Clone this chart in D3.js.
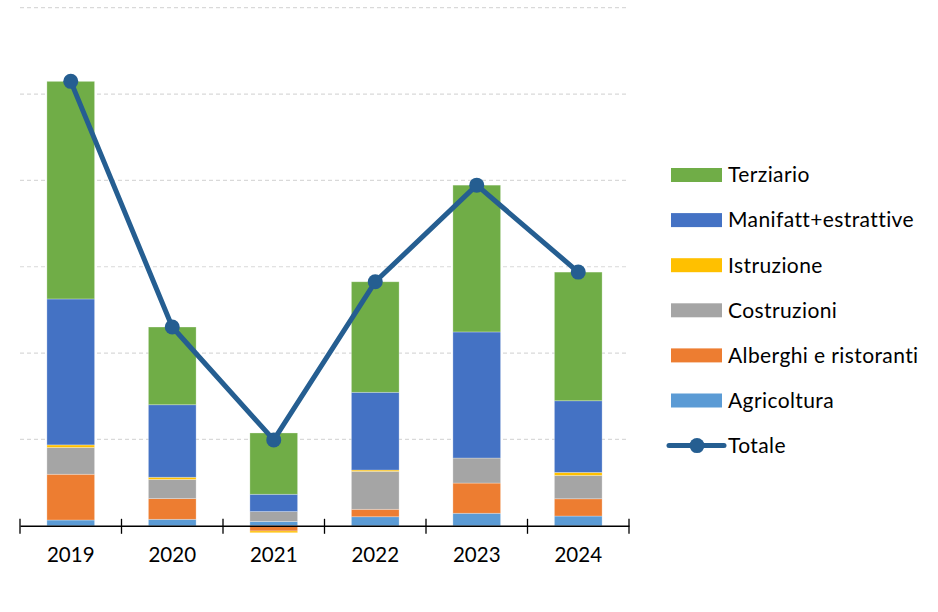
<!DOCTYPE html>
<html>
<head>
<meta charset="utf-8">
<script src="https://cdn.jsdelivr.net/npm/d3@7"></script>
<style>
  body { margin: 0; background: #fff; }
  text { font-family: Lato, "Open Sans", sans-serif; fill: #000; font-variant-ligatures: none; }
</style>
</head>
<body>
<div id="chart"></div>
<script>
// data (one gridline = 1000)
const years = ["2019", "2020", "2021", "2022", "2023", "2024"]
const agricoltura = [67, 75, 50, 105, 145, 113]
const alberghi = [530, 240, -60, 86, 350, 200]
const costruzioni = [310, 222, 115, 440, 290, 270]
const istruzione = [30, 25, -20, 15, 0, 35]
const manifatt = [1690, 840, 200, 900, 1460, 830]
const terziario = [2520, 900, 710, 1280, 1700, 1490]
const gridTicks = [1000, 2000, 3000, 4000, 5000, 6000]

const seriesNames = ["Agricoltura", "Alberghi e ristoranti", "Costruzioni", "Istruzione", "Manifatt+estrattive", "Terziario"]
const seriesValues = [agricoltura, alberghi, costruzioni, istruzione, manifatt, terziario]
const colors = ["#5b9bd5", "#ed7d31", "#a5a5a5", "#ffc000", "#4472c4", "#70ad47"]
const lineColor = "#255e91"

const width = 938
const height = 612

const rows = years.map((y, i) => {
  const r = { year: y }
  seriesNames.forEach((s, j) => { r[s] = seriesValues[j][i] })
  r.total = d3.sum(seriesValues, v => v[i])
  return r
})

const svg = d3.select("#chart").append("svg")
  .attr("width", width)
  .attr("height", height)

const x = d3.scaleBand().domain(years).range([20, 629])
const y = d3.scaleLinear().domain([0, 6000]).range([525.8, 7.7])
const barW = x.step() * 0.47

// gridlines
svg.append("g")
  .selectAll("line")
  .data(gridTicks)
  .join("line")
  .attr("x1", 20)
  .attr("x2", 629)
  .attr("y1", d => y(d))
  .attr("y2", d => y(d))
  .attr("stroke", "#d9d9d9")
  .attr("stroke-width", 1.2)
  .attr("stroke-dasharray", "4,3")

// stacked bars
const stack = d3.stack().keys(seriesNames).offset(d3.stackOffsetDiverging)
const stacked = stack(rows)

svg.append("g")
  .selectAll("g")
  .data(stacked)
  .join("g")
  .attr("fill", (d, i) => colors[i])
  .selectAll("rect")
  .data(d => d)
  .join("rect")
  .attr("x", d => x(d.data.year) + (x.bandwidth() - barW) / 2)
  .attr("width", barW)
  .attr("y", d => y(Math.max(d[0], d[1])))
  .attr("height", d => Math.abs(y(d[0]) - y(d[1])))
  .attr("stroke", "#fff")
  .attr("stroke-opacity", 0.35)
  .attr("stroke-width", 0.8)

// x axis
const xAxis = d3.axisBottom(x).tickSize(0).tickPadding(22).tickSizeOuter(0)
const gx = svg.append("g").attr("transform", `translate(0,${y(0)})`).call(xAxis)
gx.select(".domain").attr("stroke", "#000").attr("stroke-width", 1.5)
gx.selectAll(".tick text").attr("font-size", 20.5).attr("font-family", "Lato, sans-serif")

// tick marks between categories
const bounds = [20].concat(years.map(d => x(d) + x.step()))
gx.selectAll(".sep")
  .data(bounds)
  .join("line")
  .attr("class", "sep")
  .attr("x1", d => d)
  .attr("x2", d => d)
  .attr("y1", -7)
  .attr("y2", 8)
  .attr("stroke", "#000")
  .attr("stroke-width", 1.3)

// total line
const line = d3.line()
  .x(d => x(d.year) + x.bandwidth() / 2)
  .y(d => y(d.total))

svg.append("path")
  .datum(rows)
  .attr("d", line)
  .attr("fill", "none")
  .attr("stroke", lineColor)
  .attr("stroke-width", 5)
  .attr("stroke-linejoin", "round")

svg.append("g")
  .selectAll("circle")
  .data(rows)
  .join("circle")
  .attr("cx", d => x(d.year) + x.bandwidth() / 2)
  .attr("cy", d => y(d.total))
  .attr("r", 7.5)
  .attr("fill", lineColor)

// legend
const legendItems = [5, 4, 3, 2, 1, 0].map(i => ({ name: seriesNames[i], color: colors[i] }))
const legend = svg.append("g")
legendItems.forEach((d, i) => {
  const cy = 175 + i * 45.1
  legend.append("rect")
    .attr("x", 671).attr("y", cy - 7)
    .attr("width", 51).attr("height", 14)
    .attr("fill", d.color)
  legend.append("text")
    .attr("x", 728).attr("y", cy)
    .attr("dy", "0.35em")
    .attr("font-size", 21)
    .attr("letter-spacing", 0.4)
    .text(d.name)
})
const ly = 175 + 6 * 45.1
legend.append("line")
  .attr("x1", 669).attr("x2", 724)
  .attr("y1", ly).attr("y2", ly)
  .attr("stroke", lineColor).attr("stroke-width", 5)
  .attr("stroke-linecap", "round")
legend.append("circle")
  .attr("cx", 697).attr("cy", ly).attr("r", 7.5)
  .attr("fill", lineColor)
legend.append("text")
  .attr("x", 728).attr("y", ly)
  .attr("dy", "0.35em")
  .attr("font-size", 21)
  .attr("letter-spacing", 0.4)
  .text("Totale")
</script>
</body>
</html>
